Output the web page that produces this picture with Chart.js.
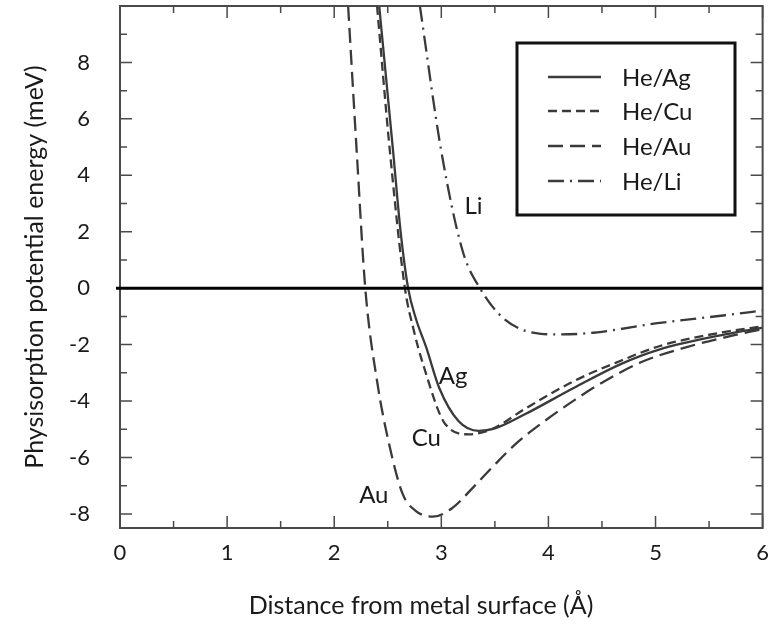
<!DOCTYPE html>
<html>
<head>
<meta charset="utf-8">
<script src="https://cdn.jsdelivr.net/npm/chart.js@4.4.1/dist/chart.umd.min.js"></script>
<style>
  html, body { margin: 0; padding: 0; background: #fff; }
  #wrap { width: 781px; height: 627px; }
</style>
</head>
<body>
<div id="wrap"><canvas id="potentialChart" width="781" height="627"></canvas></div>
<script>
// values (distance in Å, energy in meV)
const agX = [2.42, 2.55, 2.62, 2.69, 2.76, 2.86, 2.98, 3.16, 3.35, 3.5, 3.78, 4.24, 4.67, 5.04, 5.65, 6.0];
const agY = [10, 4.85, 2.0, 0, -1.05, -2.11, -3.53, -4.71, -5.06, -4.97, -4.47, -3.53, -2.7, -2.17, -1.64, -1.4];

const cuX = [2.4, 2.52, 2.66, 2.74, 2.83, 3.04, 3.26, 3.47, 3.78, 4.24, 4.67, 5.04, 5.65, 6.0];
const cuY = [10, 4.85, 0, -1.45, -2.7, -4.83, -5.18, -5.0, -4.28, -3.29, -2.58, -2.05, -1.55, -1.35];

const auX = [2.13, 2.21, 2.29, 2.4, 2.52, 2.64, 2.76, 2.92, 3.1, 3.3, 3.5, 3.7, 3.95, 4.25, 4.5, 4.88, 5.3, 5.65, 6.0];
const auY = [10, 4.85, 0, -3.29, -5.65, -7.3, -7.89, -8.1, -7.8, -7.05, -6.25, -5.5, -4.75, -3.95, -3.35, -2.6, -2.08, -1.74, -1.45];

const liX = [2.8, 3.0, 3.2, 3.36, 3.59, 3.93, 4.12, 4.42, 5.04, 5.65, 6.0];
const liY = [10, 4.85, 1.31, 0, -1.1, -1.62, -1.64, -1.58, -1.23, -0.96, -0.79];

const xTickValues = [0, 1, 2, 3, 4, 5, 6];
const yTickValues = [-8, -6, -4, -2, 0, 2, 4, 6, 8];

const seriesNames = ["He/Ag", "He/Cu", "He/Au", "He/Li"];
const curveTags = ["Ag", "Cu", "Au", "Li"];
const tagX = [3.11, 2.86, 2.37, 3.3];
const tagY = [-3.12, -5.31, -7.33, 2.9];

const lineColor = "#3a3a3a";
const dashes = [[], [9, 5], [15, 7], [16, 6, 2, 6]];

function toPoints(xs, ys) {
  return xs.map((x, i) => ({ x: x, y: ys[i] }));
}

function makeSet(label, xs, ys, dash) {
  return {
    label: label,
    data: toPoints(xs, ys),
    showLine: true,
    borderColor: lineColor,
    borderWidth: 2.3,
    borderDash: dash,
    pointRadius: 0,
    cubicInterpolationMode: "monotone",
  };
}

// frame, inside ticks, curve tags, legend box, x title
const decorations = {
  id: "decorations",
  afterDraw(chart) {
    const ctx = chart.ctx;
    const area = chart.chartArea;
    const xs = chart.scales.x;
    const ys = chart.scales.y;
    ctx.save();

    ctx.strokeStyle = "#4a4a4a";
    ctx.lineWidth = 2;
    ctx.strokeRect(area.left, area.top, area.right - area.left, area.bottom - area.top);

    // ticks pointing inwards
    ctx.lineWidth = 1.5;
    ctx.beginPath();
    for (let v = 0; v <= 6.001; v += 0.5) {
      const px = xs.getPixelForValue(v);
      const len = Number.isInteger(v) ? 12 : 7;
      ctx.moveTo(px, area.bottom);
      ctx.lineTo(px, area.bottom - len);
      ctx.moveTo(px, area.top);
      ctx.lineTo(px, area.top + len);
    }
    for (let v = -8; v <= 9; v += 1) {
      const py = ys.getPixelForValue(v);
      const len = v % 2 === 0 ? 12 : 7;
      ctx.moveTo(area.left, py);
      ctx.lineTo(area.left + len, py);
      ctx.moveTo(area.right, py);
      ctx.lineTo(area.right - len, py);
    }
    ctx.stroke();

    // zero line pokes a little past the left axis
    const y0 = ys.getPixelForValue(0);
    ctx.strokeStyle = "#000";
    ctx.lineWidth = 3;
    ctx.beginPath();
    ctx.moveTo(area.left - 4, y0);
    ctx.lineTo(area.right, y0);
    ctx.stroke();

    // labels next to the curves
    ctx.fillStyle = "#1a1a1a";
    ctx.font = "24px Lato";
    ctx.textAlign = "center";
    ctx.textBaseline = "middle";
    curveTags.forEach((t, i) => {
      ctx.fillText(t, xs.getPixelForValue(tagX[i]), ys.getPixelForValue(tagY[i]));
    });

    // legend
    const box = { left: 517, top: 43, right: 735, bottom: 215 };
    ctx.fillStyle = "#fff";
    ctx.fillRect(box.left, box.top, box.right - box.left, box.bottom - box.top);
    ctx.strokeStyle = "#111";
    ctx.lineWidth = 3;
    ctx.strokeRect(box.left, box.top, box.right - box.left, box.bottom - box.top);
    const rows = [77, 111, 146, 181];
    ctx.textAlign = "left";
    ctx.font = "24px Lato";
    chart.data.datasets.forEach((ds, i) => {
      ctx.strokeStyle = lineColor;
      ctx.lineWidth = 2.5;
      ctx.setLineDash(ds.borderDash);
      ctx.beginPath();
      ctx.moveTo(548, rows[i]);
      ctx.lineTo(601, rows[i]);
      ctx.stroke();
      ctx.setLineDash([]);
      ctx.fillStyle = "#1a1a1a";
      ctx.fillText(ds.label, 622, rows[i] + 1);
    });

    // x axis title (sits a bit left of centre in the original)
    ctx.font = "25px Lato";
    ctx.textAlign = "center";
    ctx.fillStyle = "#1a1a1a";
    ctx.fillText("Distance from metal surface (Å)", 421, 606);

    ctx.restore();
  },
};

const chart = new Chart(document.getElementById("potentialChart"), {
  type: "scatter",
  data: {
    datasets: [
      makeSet(seriesNames[0], agX, agY, dashes[0]),
      makeSet(seriesNames[1], cuX, cuY, dashes[1]),
      makeSet(seriesNames[2], auX, auY, dashes[2]),
      makeSet(seriesNames[3], liX, liY, dashes[3]),
    ],
  },
  options: {
    responsive: false,
    animation: false,
    devicePixelRatio: 1,
    layout: { padding: { top: 6, right: 10, left: 0, bottom: 0 } },
    plugins: {
      legend: { display: false },
      tooltip: { enabled: false },
    },
    scales: {
      x: {
        type: "linear",
        min: 0,
        max: 6,
        afterBuildTicks: (scale) => {
          scale.ticks = xTickValues.map((v) => ({ value: v }));
        },
        afterFit: (scale) => {
          scale.height = 99;
        },
        ticks: {
          color: "#1a1a1a",
          font: { family: "Lato", size: 22 },
          padding: 12,
          maxRotation: 0,
        },
        grid: { drawOnChartArea: false, drawTicks: false },
        border: { display: true, color: "#4a4a4a", width: 2 },
      },
      y: {
        type: "linear",
        min: -8.5,
        max: 10,
        afterBuildTicks: (scale) => {
          scale.ticks = yTickValues.map((v) => ({ value: v }));
        },
        afterFit: (scale) => {
          scale.width = 120;
          scale.paddingTop = 0;
          scale.paddingBottom = 0;
        },
        ticks: {
          color: "#1a1a1a",
          font: { family: "Lato", size: 22 },
          padding: 22,
        },
        grid: { display: false },
        border: { display: true, color: "#4a4a4a", width: 2 },
        title: {
          display: true,
          text: "Physisorption potential energy (meV)",
          color: "#1a1a1a",
          font: { family: "Lato", size: 25 },
          padding: { top: 20, bottom: 0 },
        },
      },
    },
  },
  plugins: [decorations],
});
</script>
</body>
</html>
